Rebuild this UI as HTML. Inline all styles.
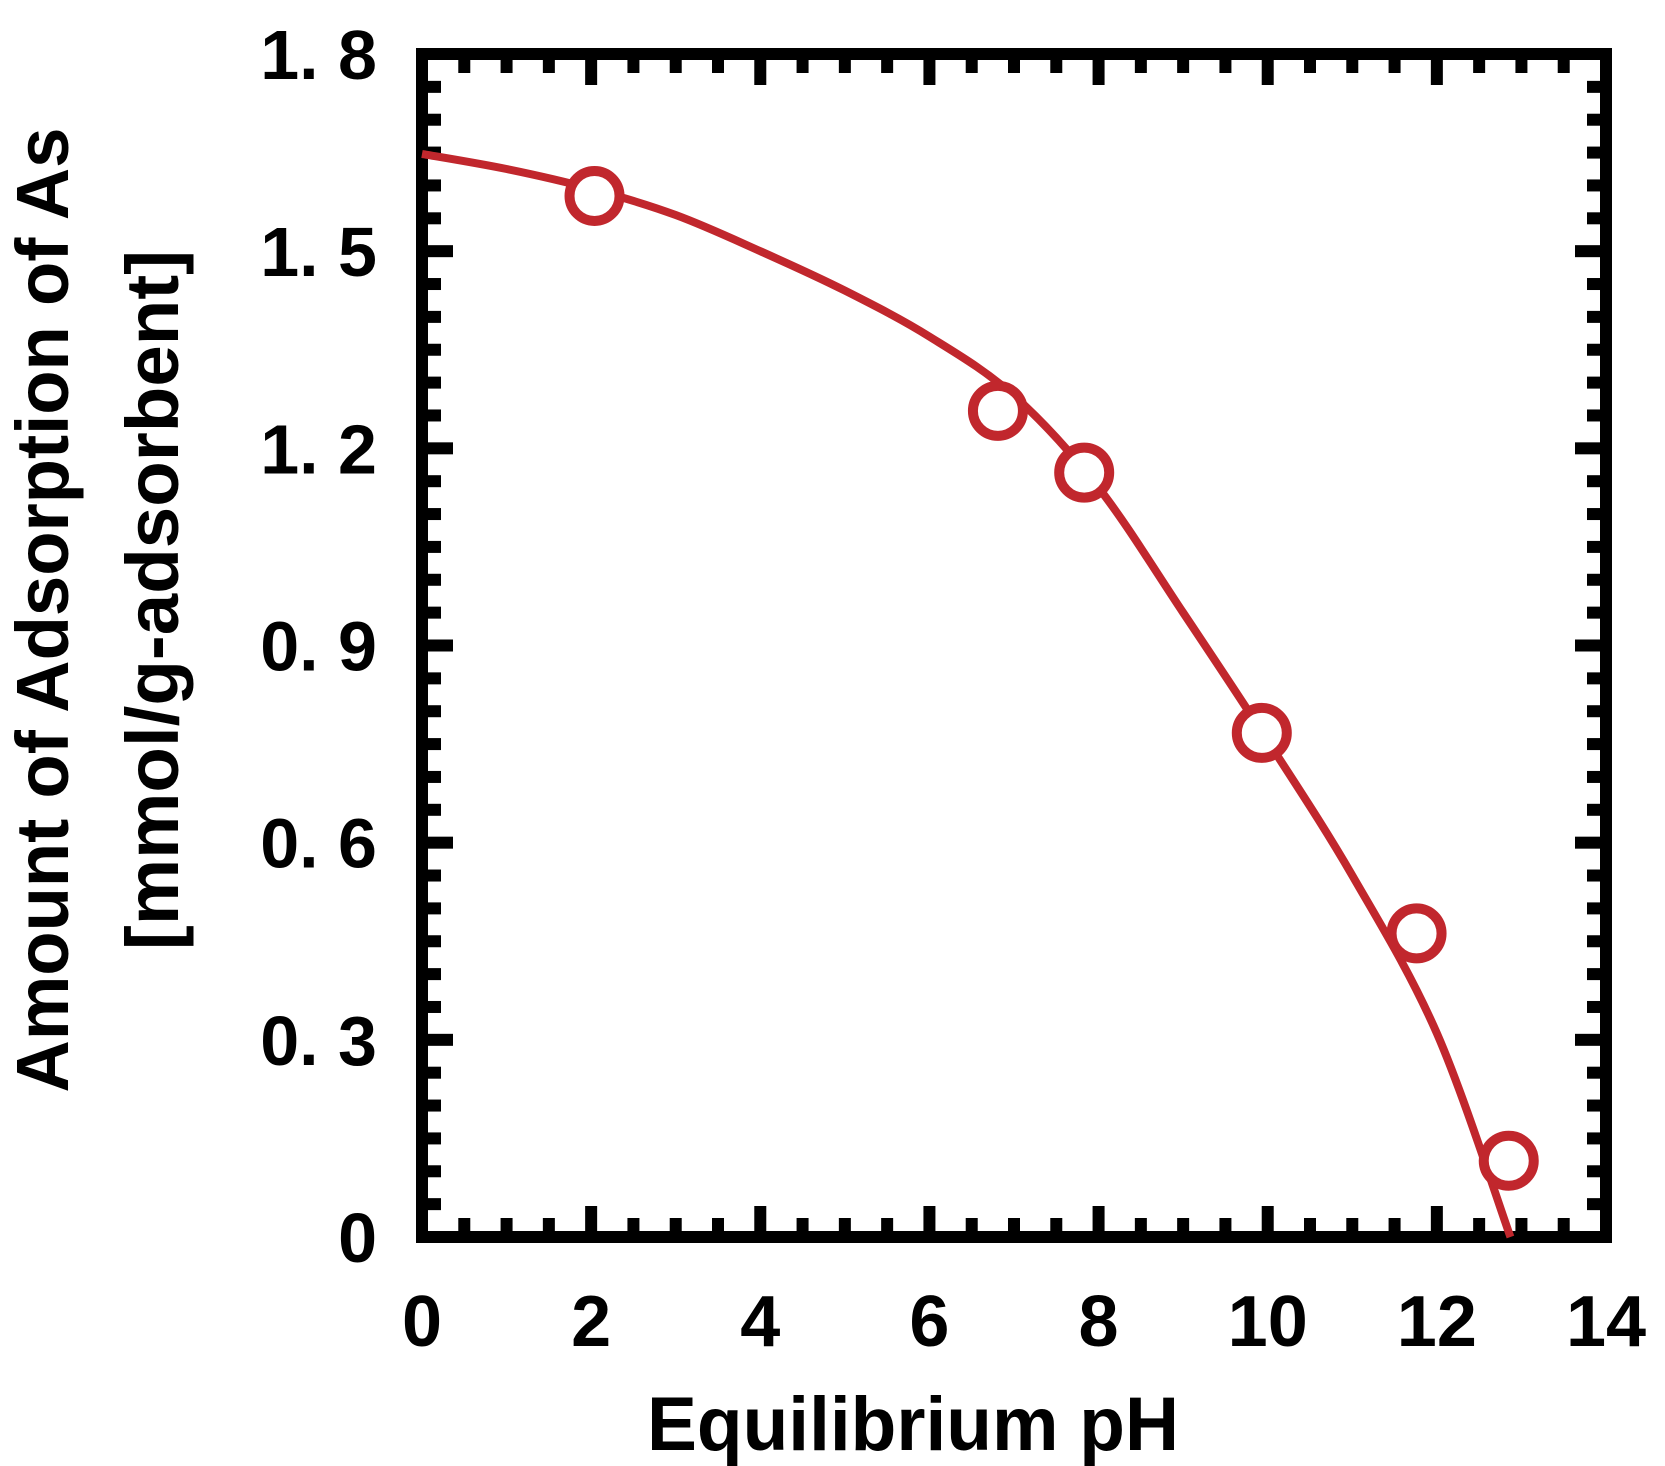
<!DOCTYPE html>
<html><head><meta charset="utf-8"><style>
html,body{margin:0;padding:0;background:#fff}
svg{display:block}
text{font-family:"Liberation Sans",sans-serif;font-weight:bold;fill:#000}
</style></head><body>
<svg id="chart" width="1665" height="1466" viewBox="0 0 1665 1466" xmlns="http://www.w3.org/2000/svg">
<g id="ticks"></g>
<g id="labels"></g>
<rect x="422" y="54" width="1184" height="1183" fill="none" stroke="#000" stroke-width="12"/>
<g id="series"></g>
<text transform="translate(68,610) rotate(-90)" text-anchor="middle" font-size="74" textLength="965" lengthAdjust="spacingAndGlyphs">Amount of Adsorption of As</text>
<text transform="translate(178,600) rotate(-90)" text-anchor="middle" font-size="74" textLength="700" lengthAdjust="spacingAndGlyphs">[mmol/g-adsorbent]</text>
<text x="913" y="1450" text-anchor="middle" font-size="76" textLength="532" lengthAdjust="spacingAndGlyphs">Equilibrium pH</text>
</svg>
<script>
const xTicks=[0,2,4,6,8,10,12,14];
const yTicks=[0,0.3,0.6,0.9,1.2,1.5,1.8];
const yTickLabels=["0","0. 3","0. 6","0. 9","1. 2","1. 5","1. 8"];
const pointX=[2.04,6.81,7.83,9.93,11.76,12.85];
const pointY=[1.584,1.257,1.163,0.767,0.462,0.116];
const curveX=[0,1,2,3,4,5,6,7,8,9,10,11,12,12.87];
const curveY=[1.648,1.625,1.595,1.555,1.50,1.44,1.37,1.28,1.14,0.95,0.755,0.55,0.31,0];
const NS="http://www.w3.org/2000/svg";
const X0=422,X1=1606,Y0=1237,Y1=54;
function sx(v){return X0+(X1-X0)*v/14;}
function sy(v){return Y0-(Y0-Y1)*v/1.8;}
function mk(tag,attrs,parent){const e=document.createElementNS(NS,tag);for(const k in attrs)e.setAttribute(k,attrs[k]);parent.appendChild(e);return e;}
const tg=document.getElementById('ticks');
for(let i=1;i<28;i++){const x=sx(i*0.5);const L=(i%4===0)?25:13;
 let t=mk('rect',{x:x-6,y:Y0-6-L,width:12,height:L+2,fill:'#000'},tg);
 
 
 t=mk('rect',{x:x-6,y:Y1+4,width:12,height:L+2,fill:'#000'},tg);
 
 }
for(let i=1;i<36;i++){const y=sy(i*0.05);const L=(i%6===0)?25:13;
 let t=mk('rect',{x:X0+4,y:y-6,width:L+2,height:12,fill:'#000'},tg);
 
 
 t=mk('rect',{x:X1-6-L,y:y-6,width:L+2,height:12,fill:'#000'},tg);
 
 }
const lg=document.getElementById('labels');
xTicks.forEach(v=>{const t=mk('text',{x:sx(v),y:1346,'text-anchor':'middle','font-size':72},lg);t.textContent=String(v);
 
 });
yTicks.forEach((v,i)=>{const t=mk('text',{x:377,y:sy(v)+25,'text-anchor':'end','font-size':70},lg);t.textContent=yTickLabels[i];
 
 });
const sg=document.getElementById('series');
const P=curveX.map((x,i)=>[sx(x),sy(curveY[i])]);
let d='M'+P[0][0]+','+P[0][1];
for(let i=0;i<P.length-1;i++){const p0=P[Math.max(0,i-1)],p1=P[i],p2=P[i+1],p3=P[Math.min(P.length-1,i+2)];
 d+=' C'+(p1[0]+(p2[0]-p0[0])/6)+','+(p1[1]+(p2[1]-p0[1])/6)+' '+(p2[0]-(p3[0]-p1[0])/6)+','+(p2[1]-(p3[1]-p1[1])/6)+' '+p2[0]+','+p2[1];}
const c=mk('path',{d:d,fill:'none',stroke:'#c1272d','stroke-width':8},sg);


pointX.forEach((x,i)=>{const p=mk('circle',{cx:sx(x),cy:sy(pointY[i]),r:25,fill:'#fff',stroke:'#c1272d','stroke-width':10},sg);
 
 });
</script>
</body></html>
